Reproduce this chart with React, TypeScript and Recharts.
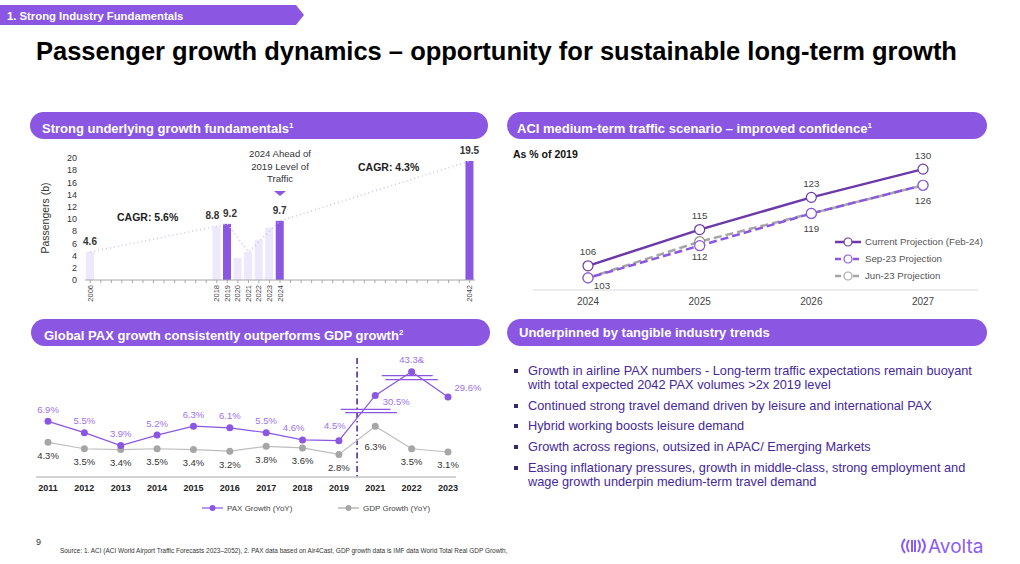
import React from "react";
import {
  ComposedChart,
  LineChart,
  Bar,
  Line,
  XAxis,
  YAxis,
  Cell,
  LabelList,
  Legend,
  ReferenceArea,
} from "recharts";

const PURPLE = "#8A56E2";
const LIGHT_PURPLE = "#EDE8FB";
const FONT = '"Liberation Sans", Arial, sans-serif';

// --- chart 1: passengers (b)
const timelineYears = [
  2006, 2007, 2008, 2009, 2010, 2011, 2012, 2013, 2014, 2015, 2016, 2017, 2018,
  2019, 2020, 2021, 2022, 2023, 2024, 2025, 2026, 2027, 2028, 2029, 2030, 2031,
  2032, 2033, 2034, 2035, 2036, 2037, 2038, 2039, 2040, 2041, 2042,
];
const paxYears = [2006, 2018, 2019, 2020, 2021, 2022, 2023, 2024, 2042];
const paxValues = [4.6, 8.8, 9.2, 3.6, 4.6, 6.6, 8.6, 9.7, 19.5];
const highlightYears = [2019, 2024, 2042];
const valueLabelYears = [2006, 2018, 2019, 2024, 2042];
const trendYears = [2006, 2018, 2019, 2021, 2024, 2042];
const trendValues = [4.6, 8.8, 9.2, 4.6, 9.7, 19.5];
const passengerTicks = [0, 2, 4, 6, 8, 10, 12, 14, 16, 18, 20];

// --- chart 2: ACI scenario, as % of 2019
const scenarioYears = ["2024", "2025", "2026", "2027"];
const currentProjection = [106, 115, 123, 130];
const sep23Projection = [103, 111, 119, 126];
const jun23Projection = [103, 112, 119, 126];

// --- chart 3: PAX vs GDP growth
const growthYears = ["2011", "2012", "2013", "2014", "2015", "2016", "2017", "2018", "2019", "2021", "2022", "2023"];
const paxGrowth = [6.9, 5.5, 3.9, 5.2, 6.3, 6.1, 5.5, 4.6, 4.5, 30.5, 43.3, 29.6];
const paxGrowthLabels = ["6.9%", "5.5%", "3.9%", "5.2%", "6.3%", "6.1%", "5.5%", "4.6%", "4.5%", "30.5%", "43.3&", "29.6%"];
const gdpGrowth = [4.3, 3.5, 3.4, 3.5, 3.4, 3.2, 3.8, 3.6, 2.8, 6.3, 3.5, 3.1];

const bullets = [
  "Growth in airline PAX numbers - Long-term traffic expectations remain buoyant with total expected 2042 PAX volumes >2x 2019 level",
  "Continued strong travel demand driven by leisure and international PAX",
  "Hybrid working boosts leisure demand",
  "Growth across regions, outsized in APAC/ Emerging Markets",
  "Easing inflationary pressures, growth in middle-class, strong employment and wage growth underpin medium-term travel demand",
];

// broken y axis: values above the break are compressed
const compress = (v: number) => (v <= 20 ? v : 10 + (v - 30) * 0.23);

const passengerData = timelineYears.map((year) => {
  const i = paxYears.indexOf(year);
  const t = trendYears.indexOf(year);
  const value = i >= 0 ? paxValues[i] : null;
  return {
    year,
    value,
    label: valueLabelYears.includes(year) ? value : null,
    trend: t >= 0 ? trendValues[t] : null,
  };
});

const scenarioData = scenarioYears.map((year, i) => ({
  year,
  current: currentProjection[i],
  sep: sep23Projection[i],
  jun: jun23Projection[i],
}));

const growthData = growthYears.map((year, i) => ({
  year,
  pax: compress(paxGrowth[i]),
  paxLabel: paxGrowthLabels[i],
  gdp: gdpGrowth[i],
  gdpLabel: gdpGrowth[i].toFixed(1) + "%",
}));

// small nudges so neighbouring labels don't collide
const barLabelShift: Record<number, number> = { 2018: -4, 2019: 3 };
const paxLabelShift: Record<string, [number, number]> = {
  "2018": [-9, -12],
  "2019": [-4, -15],
  "2021": [21, 6],
  "2023": [20, -10],
};
const gdpLabelShift: Record<string, [number, number]> = {
  "2021": [0, 20],
};

function Pill({ left, top, width, pad = 12, children }: any) {
  return (
    <div
      style={{
        position: "absolute",
        left,
        top,
        width,
        height: 27,
        borderRadius: 14,
        background: PURPLE,
        color: "#fff",
        fontWeight: 700,
        fontSize: 13,
        lineHeight: "27px",
        paddingLeft: pad,
        boxSizing: "border-box",
        whiteSpace: "nowrap",
      }}
    >
      {children}
    </div>
  );
}

function PassengerTick({ x, y, payload }: any) {
  if (!paxYears.includes(payload.value)) return null;
  return (
    <text
      x={x}
      y={y}
      transform={`rotate(-90, ${x}, ${y})`}
      textAnchor="end"
      dominantBaseline="central"
      fontSize={7.5}
      fill="#444"
    >
      {payload.value}
    </text>
  );
}

function PassengerChart() {
  return (
    <ComposedChart
      width={465}
      height={165}
      data={passengerData}
      margin={{ top: 18, right: 15, left: 15, bottom: 0 }}
      barSize={8}
    >
      <XAxis
        dataKey="year"
        interval={0}
        tickSize={3}
        tickLine={{ stroke: "#A6A6A6" }}
        axisLine={{ stroke: "#A6A6A6" }}
        tick={<PassengerTick />}
        height={25}
      />
      <YAxis
        domain={[0, 20]}
        ticks={passengerTicks}
        interval={0}
        axisLine={false}
        tickLine={false}
        width={45}
        tick={{ fontSize: 9, fill: "#333" }}
      />
      <Bar dataKey="value" isAnimationActive={false}>
        {passengerData.map((d) => (
          <Cell key={d.year} fill={highlightYears.includes(d.year) ? PURPLE : LIGHT_PURPLE} />
        ))}
        <LabelList
          dataKey="label"
          content={(p: any) => {
            if (p.value == null) return null;
            const year = paxYears[paxValues.indexOf(p.value)];
            return (
              <text
                x={p.x + p.width / 2 + (barLabelShift[year] || 0)}
                y={p.y - 7}
                textAnchor="middle"
                fontSize={10}
                fontWeight={700}
                fill="#333"
              >
                {p.value}
              </text>
            );
          }}
        />
      </Bar>
      <Line
        dataKey="trend"
        connectNulls
        stroke="#CBC3EA"
        strokeWidth={1.5}
        strokeDasharray="1 3"
        dot={false}
        activeDot={false}
        isAnimationActive={false}
      />
    </ComposedChart>
  );
}

const scenarioLegend = [
  { name: "Current Projection (Feb-24)", color: "#6B3AA8", dash: undefined },
  { name: "Sep-23 Projection", color: "#8A56E2", dash: "6 3" },
  { name: "Jun-23 Projection", color: "#A6A6A6", dash: "6 3" },
];

function ScenarioLegend() {
  return (
    <div style={{ position: "absolute", left: 835, top: 233 }}>
      {scenarioLegend.map((it) => (
        <div key={it.name} style={{ display: "flex", alignItems: "center", height: 17 }}>
          <svg width={27} height={12}>
            <line x1={0} y1={6} x2={26} y2={6} stroke={it.color} strokeWidth={2.5} strokeDasharray={it.dash} />
            <circle cx={13} cy={6} r={4} fill="#fff" stroke={it.color} strokeWidth={1.2} />
          </svg>
          <span style={{ fontSize: 9.7, color: "#555", marginLeft: 3, whiteSpace: "nowrap" }}>{it.name}</span>
        </div>
      ))}
    </div>
  );
}

function ScenarioChart() {
  const label = (dy: number, first?: [number, number]) => (p: any) => {
    const [dx, ddy] = p.index === 0 && first ? first : [0, dy];
    return (
      <text x={p.x + dx} y={p.y + ddy} textAnchor="middle" dominantBaseline="central" fontSize={9.8} fill="#444">
        {p.value}
      </text>
    );
  };
  return (
    <LineChart
      width={485}
      height={170}
      data={scenarioData}
      margin={{ top: 9, right: 12, left: 28, bottom: 0 }}
    >
      <XAxis
        dataKey="year"
        padding={{ left: 55, right: 55 }}
        axisLine={{ stroke: "#D9D9D9" }}
        tickLine={false}
        tick={{ fontSize: 10, fill: "#444" }}
        height={20}
      />
      <YAxis hide domain={[100, 135]} />
      <Line
        dataKey="jun"
        stroke="#A6A6A6"
        strokeWidth={2.5}
        strokeDasharray="8 4"
        dot={{ r: 5, fill: "#fff", stroke: "#8C8C8C", strokeWidth: 1.2, strokeDasharray: "" }}
        isAnimationActive={false}
      >
        <LabelList dataKey="jun" content={label(15, [14, 8])} />
      </Line>
      <Line
        dataKey="sep"
        stroke="#8A56E2"
        strokeWidth={2.5}
        strokeDasharray="8 4"
        strokeDashoffset={6}
        dot={{ r: 5, fill: "#fff", stroke: "#8A56E2", strokeWidth: 1.2, strokeDasharray: "" }}
        isAnimationActive={false}
      />
      <Line
        dataKey="current"
        stroke="#6B3AA8"
        strokeWidth={2.5}
        dot={{ r: 5, fill: "#fff", stroke: "#6B3AA8", strokeWidth: 1.2 }}
        isAnimationActive={false}
      >
        <LabelList dataKey="current" content={label(-14)} />
      </Line>
    </LineChart>
  );
}

const breakMarks = [
  { from: "2019", to: "2021", low: 7.98, high: 8.39, top: [0.05, 1.42], bottom: [0.17, 1.6] },
  { from: "2021", to: "2023", low: 12.07, high: 12.56, top: [0.09, 0.79], bottom: [0.14, 0.86] },
];

function GrowthLegend() {
  return (
    <div style={{ position: "relative", height: 25, fontSize: 8, color: "#444" }}>
      <div style={{ position: "absolute", left: 177, top: 6, display: "flex", alignItems: "center" }}>
        <svg width={22} height={10}>
          <line x1={0} y1={5} x2={21} y2={5} stroke="#8A56E2" strokeWidth={1.2} />
          <circle cx={10.5} cy={5} r={3} fill="#8A56E2" />
        </svg>
        <span style={{ marginLeft: 3 }}>PAX Growth (YoY)</span>
      </div>
      <div style={{ position: "absolute", left: 313, top: 6, display: "flex", alignItems: "center" }}>
        <svg width={22} height={10}>
          <line x1={0} y1={5} x2={21} y2={5} stroke="#A6A6A6" strokeWidth={1.2} />
          <circle cx={10.5} cy={5} r={3} fill="#A6A6A6" />
        </svg>
        <span style={{ marginLeft: 3 }}>GDP Growth (YoY)</span>
      </div>
    </div>
  );
}

function GrowthChart() {
  const paxLabel = (p: any) => {
    const d = growthData[p.index];
    const [dx, dy] = paxLabelShift[d.year] || [0, -12];
    return (
      <text x={p.x + dx} y={p.y + dy} textAnchor="middle" dominantBaseline="central" fontSize={9.5} fill="#9D72EC">
        {d.paxLabel}
      </text>
    );
  };
  const gdpLabel = (p: any) => {
    const d = growthData[p.index];
    const [dx, dy] = gdpLabelShift[d.year] || [0, 13];
    return (
      <text x={p.x + dx} y={p.y + dy} textAnchor="middle" dominantBaseline="central" fontSize={9.5} fill="#333">
        {d.gdpLabel}
      </text>
    );
  };
  return (
    <LineChart
      width={470}
      height={177}
      data={growthData}
      margin={{ top: 11, right: 39, left: 11, bottom: 0 }}
    >
      <XAxis
        dataKey="year"
        padding={{ left: 12, right: 8 }}
        axisLine={{ stroke: "#A6A6A6" }}
        tickLine={false}
        tick={{ fontSize: 9, fill: "#222", fontWeight: 700 }}
        height={20}
      />
      <YAxis hide domain={[0, 15]} />
      <Legend verticalAlign="bottom" height={25} content={() => <GrowthLegend />} wrapperStyle={{ left: 0, width: 470 }} />
      <ReferenceArea
        x1="2019"
        x2="2021"
        shape={(p: any) => (
          <line
            x1={p.x + p.width / 2}
            x2={p.x + p.width / 2}
            y1={p.y + 2}
            y2={p.y + p.height}
            stroke="#5B2B9B"
            strokeWidth={1.6}
            strokeDasharray="6 3 1.5 3"
          />
        )}
      />
      <Line
        dataKey="gdp"
        stroke="#BDBDBD"
        strokeWidth={1.2}
        dot={{ r: 3.5, fill: "#A6A6A6", stroke: "none" }}
        isAnimationActive={false}
      >
        <LabelList dataKey="gdp" content={gdpLabel} />
      </Line>
      <Line
        dataKey="pax"
        stroke="#8A56E2"
        strokeWidth={1.2}
        dot={{ r: 3.5, fill: "#8A56E2", stroke: "none" }}
        isAnimationActive={false}
      >
        <LabelList dataKey="pax" content={paxLabel} />
      </Line>
      {breakMarks.map((b) => (
        <ReferenceArea
          key={b.from}
          x1={b.from}
          x2={b.to}
          y1={b.low}
          y2={b.high}
          shape={(p: any) => (
            <g>
              <line x1={p.x + p.width * b.top[0]} x2={p.x + p.width * b.top[1]} y1={p.y} y2={p.y} stroke="#8A56E2" strokeWidth={1.2} />
              <line
                x1={p.x + p.width * b.bottom[0]}
                x2={p.x + p.width * b.bottom[1]}
                y1={p.y + p.height}
                y2={p.y + p.height}
                stroke="#8A56E2"
                strokeWidth={1.2}
              />
            </g>
          )}
        />
      ))}
    </LineChart>
  );
}

export default function App() {
  return (
    <div
      style={{
        position: "relative",
        width: 1020,
        height: 564,
        background: "#fff",
        fontFamily: FONT,
        overflow: "hidden",
      }}
    >
      <style>{`body{margin:0}`}</style>

      <svg style={{ position: "absolute", left: 0, top: 5 }} width={305} height={21}>
        <polygon points="0,0 296,0 304,10 296,20 0,20" fill={PURPLE} />
        <text x={7} y={10.5} dominantBaseline="central" fontSize={11.3} fontWeight={700} fill="#fff">
          1. Strong Industry Fundamentals
        </text>
      </svg>

      <div style={{ position: "absolute", left: 36, top: 37, fontSize: 25.5, fontWeight: 700, color: "#000", whiteSpace: "nowrap" }}>
        Passenger growth dynamics – opportunity for sustainable long-term growth
      </div>

      <Pill left={30} top={112} width={458}>
        Strong underlying growth fundamentals<sup style={{ fontSize: 8 }}>1</sup>
      </Pill>
      <Pill left={507} top={112} width={480} pad={10}>
        ACI medium-term traffic scenario – improved confidence<sup style={{ fontSize: 8 }}>1</sup>
      </Pill>
      <Pill left={31} top={319} width={459} pad={13}>
        Global PAX growth consistently outperforms GDP growth<sup style={{ fontSize: 8 }}>2</sup>
      </Pill>
      <Pill left={507} top={319} width={480}>
        Underpinned by tangible industry trends
      </Pill>

      {/* chart 1 */}
      <div style={{ position: "absolute", left: 25, top: 140 }}>
        <PassengerChart />
      </div>
      <div
        style={{
          position: "absolute",
          left: 45,
          top: 218,
          transform: "translate(-50%, -50%) rotate(-90deg)",
          fontSize: 10.5,
          color: "#333",
          whiteSpace: "nowrap",
        }}
      >
        Passengers (b)
      </div>
      <div style={{ position: "absolute", left: 117, top: 211, fontSize: 10.5, fontWeight: 700, color: "#222" }}>
        CAGR: 5.6%
      </div>
      <div style={{ position: "absolute", left: 358, top: 161, fontSize: 10.5, fontWeight: 700, color: "#222" }}>
        CAGR: 4.3%
      </div>
      <div
        style={{
          position: "absolute",
          left: 280,
          top: 148,
          transform: "translateX(-50%)",
          textAlign: "center",
          fontSize: 9.6,
          lineHeight: "12.6px",
          color: "#333",
          width: 90,
        }}
      >
        2024 Ahead of
        <br />
        2019 Level of
        <br />
        Traffic
      </div>
      <svg style={{ position: "absolute", left: 274, top: 191 }} width={12} height={6}>
        <polygon points="0,0 12,0 6,5" fill={PURPLE} />
      </svg>

      {/* chart 2 */}
      <div style={{ position: "absolute", left: 505, top: 140 }}>
        <ScenarioChart />
      </div>
      <ScenarioLegend />
      <div style={{ position: "absolute", left: 513, top: 148, fontSize: 10.5, fontWeight: 700, color: "#111" }}>
        As % of 2019
      </div>

      {/* chart 3 */}
      <div style={{ position: "absolute", left: 25, top: 345 }}>
        <GrowthChart />
      </div>

      {/* bullets */}
      <div style={{ position: "absolute", left: 514, top: 364, width: 469 }}>
        {bullets.map((b) => (
          <div key={b} style={{ position: "relative", paddingLeft: 14, marginBottom: 6.7, fontSize: 12.75, lineHeight: "14px", color: "#45289A" }}>
            <span
              style={{ position: "absolute", left: 0, top: 5, width: 4, height: 4, background: "#2F2A6E" }}
            />
            {b}
          </div>
        ))}
      </div>

      {/* footer */}
      <div style={{ position: "absolute", left: 36, top: 537, fontSize: 9, color: "#333" }}>9</div>
      <div style={{ position: "absolute", left: 60, top: 547, fontSize: 6.45, color: "#333", whiteSpace: "nowrap" }}>
        Source: 1. ACI (ACI World Airport Traffic Forecasts 2023–2052), 2. PAX data based on Air4Cast, GDP growth data is IMF data World Total Real GDP Growth,
      </div>
      <svg style={{ position: "absolute", left: 895, top: 535 }} width={95} height={25}>
        <g fill="none" stroke="#8B5CF6" strokeWidth={2}>
          <path d="M10 4 Q4 11 10 18" />
          <path d="M14 5 Q10 11 14 17" />
          <line x1={17} y1={5} x2={17} y2={17} />
          <line x1={20} y1={5} x2={20} y2={17} />
          <path d="M23 5 Q27 11 23 17" />
          <path d="M27 4 Q33 11 27 18" />
        </g>
        <text x={33} y={18} fontSize={19} fill="#8B5CF6" fontFamily='Inter, "Liberation Sans", Arial'>
          Avolta
        </text>
      </svg>
    </div>
  );
}
